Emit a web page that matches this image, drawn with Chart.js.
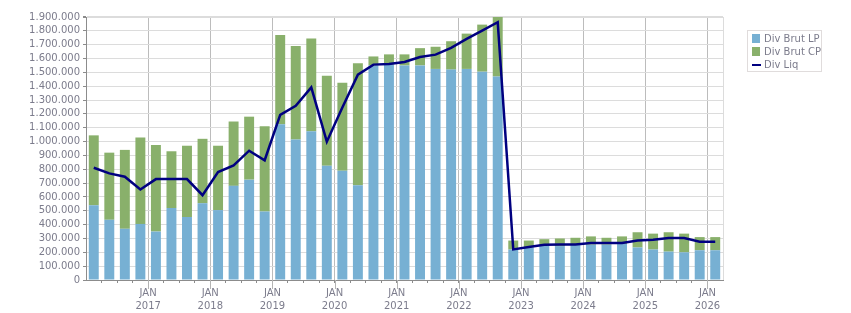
<!DOCTYPE html>
<html lang="fr">
<head>
  <meta charset="UTF-8">
  <title>Dividendes</title>
  <script src="https://cdn.jsdelivr.net/npm/chart.js"></script>
  <style>
    body { margin: 0; background: #fff; }
    #wrap { position: relative; width: 851px; height: 313px; }
    #legend {
      position: absolute; left: 747px; top: 30px; width: 73px; height: 40px;
      border: 1px solid #e0dcdc; font: 10px "DejaVu Sans", sans-serif; color: #7c7c8c;
    }
    #legend div { position: absolute; left: 16px; white-space: nowrap; }
    #legend span { position: absolute; left: -12px; }
  </style>
</head>
<body>
  <div id="wrap">
    <canvas id="divChart" width="851" height="313"></canvas>
    <div id="legend"></div>
  </div>
  <script>
    // trimestres, de 2016 T1 a 2026 T1
    const periods = [
      '2016 T1', '2016 T2', '2016 T3', '2016 T4',
      '2017 T1', '2017 T2', '2017 T3', '2017 T4',
      '2018 T1', '2018 T2', '2018 T3', '2018 T4',
      '2019 T1', '2019 T2', '2019 T3', '2019 T4',
      '2020 T1', '2020 T2', '2020 T3', '2020 T4',
      '2021 T1', '2021 T2', '2021 T3', '2021 T4',
      '2022 T1', '2022 T2', '2022 T3', '2022 T4',
      '2023 T1', '2023 T2', '2023 T3', '2023 T4',
      '2024 T1', '2024 T2', '2024 T3', '2024 T4',
      '2025 T1', '2025 T2', '2025 T3', '2025 T4',
      '2026 T1'
    ];
    const divBrutLP = [
      540000, 435000, 370000, 405000, 350000, 520000, 455000, 555000,
      505000, 680000, 725000, 495000, 1125000, 1015000, 1075000, 825000,
      790000, 685000, 1550000, 1555000, 1550000, 1550000, 1525000, 1520000,
      1525000, 1505000, 1470000, 220000, 235000, 250000, 245000, 255000,
      255000, 255000, 260000, 235000, 220000, 205000, 200000, 215000,
      215000
    ];
    const divBrutCP = [
      505000, 485000, 570000, 625000, 625000, 410000, 515000, 465000,
      465000, 465000, 455000, 615000, 645000, 675000, 670000, 650000,
      635000, 880000, 65000, 75000, 80000, 125000, 160000, 205000,
      255000, 340000, 430000, 65000, 50000, 45000, 55000, 50000,
      60000, 50000, 55000, 110000, 115000, 140000, 135000, 95000,
      95000
    ];
    const divLiq = [
      811000, 770000, 746000, 654000, 729000, 729000, 729000, 613000,
      780000, 828000, 934000, 865000, 1193000, 1258000, 1391000, 999000,
      1246000, 1483000, 1556000, 1561000, 1575000, 1611000, 1628000, 1677000,
      1742000, 1802000, 1862000, 221000, 238000, 255000, 257000, 257000,
      267000, 267000, 267000, 286000, 291000, 303000, 303000, 277000,
      277000
    ];
    const monthLabel = 'JAN';
    const firstYear = 2017;

    // position en trimestres depuis janvier 2017, barre au milieu du trimestre
    function quarterX(p) {
      const year = parseInt(p.slice(0, 4), 10);
      const q = parseInt(p.slice(6), 10);
      return (year - firstYear) * 4 + (q - 1) + 0.5;
    }
    function toPoints(values) {
      return values.map((v, i) => ({ x: quarterX(periods[i]), y: v }));
    }
    function fmt(v) {
      return String(v).replace(/\B(?=(\d{3})+(?!\d))/g, '.');
    }

    const blue = '#77b0d3';
    const green = '#89b06b';
    const navy = '#000080';
    const textColor = '#7c7c8c';

    const yearTicks = {
      id: 'yearTicks',
      afterDraw(chart) {
        const x = chart.scales.x;
        const ctx = chart.ctx;
        ctx.save();
        ctx.strokeStyle = '#b4b4b4';
        ctx.lineWidth = 1;
        for (let v = 0; v < x.max; v += 4) {
          const px = Math.round(x.getPixelForValue(v)) + 0.5;
          ctx.beginPath();
          ctx.moveTo(px, chart.chartArea.bottom);
          ctx.lineTo(px, chart.chartArea.bottom + 9);
          ctx.stroke();
        }
        ctx.restore();
      }
    };

    Chart.defaults.font.family = '"DejaVu Sans", sans-serif';
    Chart.defaults.font.size = 10;
    Chart.defaults.color = textColor;

    const chart = new Chart(document.getElementById('divChart'), {
      type: 'bar',
      data: {
        datasets: [
          {
            label: 'Div Liq',
            type: 'line',
            data: toPoints(divLiq),
            borderColor: navy,
            backgroundColor: navy,
            borderWidth: 2.5,
            pointRadius: 0,
            tension: 0,
            stack: 'liq',
            order: 0
          },
          {
            label: 'Div Brut LP',
            data: toPoints(divBrutLP),
            backgroundColor: blue,
            stack: 'brut',
            order: 1,
            categoryPercentage: 1,
            barPercentage: 0.64
          },
          {
            label: 'Div Brut CP',
            data: toPoints(divBrutCP),
            backgroundColor: green,
            stack: 'brut',
            order: 1,
            categoryPercentage: 1,
            barPercentage: 0.64
          }
        ]
      },
      options: {
        responsive: false,
        animation: false,
        layout: { padding: { top: 17, right: 128, left: 0, bottom: 0 } },
        plugins: {
          legend: { display: false },
          tooltip: { enabled: false }
        },
        scales: {
          x: {
            type: 'linear',
            stacked: true,
            offset: false,
            min: -4,
            max: 37,
            afterFit: (s) => { s.height = 33; },
            ticks: {
              stepSize: 1,
              autoSkip: false,
              maxRotation: 0,
              padding: 4,
              font: { size: 10, lineHeight: 1.27 },
              callback: (v) => (v % 4 === 0 && v >= 0) ? [monthLabel, String(firstYear + v / 4)] : ''
            },
            grid: {
              offset: false,
              tickLength: 3,
              color: (c) => {
                const v = c.tick && c.tick.value;
                if (v === 37) return '#dcdcdc';
                if (v % 4 === 0 && v > -4) return '#bcbcbc';
                return 'rgba(0,0,0,0)';
              },
              tickColor: (c) => (c.tick && (c.tick.value === 37 || c.tick.value === -4)) ? 'rgba(0,0,0,0)' : '#8c8c8c'
            },
            border: { color: '#8c8c8c' }
          },
          y: {
            stacked: true,
            min: 0,
            max: 1900000,
            afterFit: (s) => { s.width = 86; },
            ticks: {
              stepSize: 100000,
              autoSkip: false,
              padding: 3,
              callback: (v) => fmt(v)
            },
            grid: {
              tickLength: 3,
              color: '#dcdcdc',
              lineWidth: (c) => (c.tick && c.tick.value === 1900000) ? 2 : 1,
              tickColor: '#8c8c8c'
            },
            border: { color: '#8c8c8c' }
          }
        }
      },
      plugins: [yearTicks]
    });

    // legende
    const legend = document.getElementById('legend');
    const items = [
      { text: 'Div Brut LP', color: blue, line: false },
      { text: 'Div Brut CP', color: green, line: false },
      { text: 'Div Liq', color: navy, line: true }
    ];
    items.forEach((it, i) => {
      const row = document.createElement('div');
      row.style.top = (2 + i * 13) + 'px';
      const mark = document.createElement('span');
      if (it.line) {
        mark.style.cssText = 'top:5px;width:9px;height:2px;background:' + it.color;
      } else {
        mark.style.cssText = 'top:1px;width:8px;height:9px;background:' + it.color;
      }
      row.appendChild(mark);
      row.appendChild(document.createTextNode(it.text));
      legend.appendChild(row);
    });
  </script>
</body>
</html>
